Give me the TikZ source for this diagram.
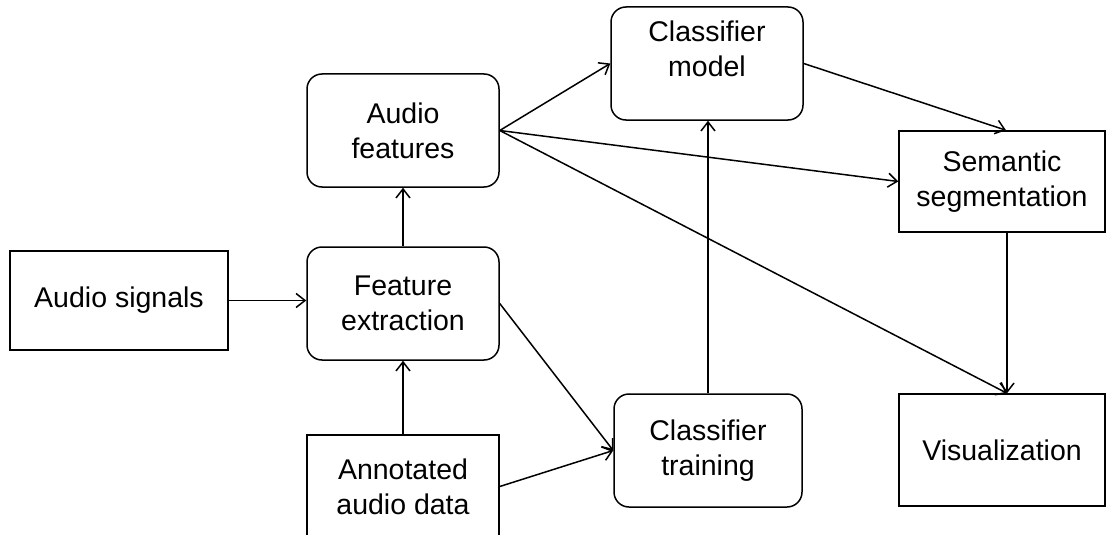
\documentclass[tikz,border=0pt]{standalone}
\usepackage{fontspec}
\setmainfont{Liberation Sans}
\usetikzlibrary{arrows.meta}
\begin{document}
\begin{tikzpicture}[x=1pt,y=-1pt,
  every node/.style={font=\fontsize{28.5}{35}\selectfont, align=center, inner sep=0pt, line width=1.5pt},
  sbox/.style={draw, rectangle},
  rbox/.style={draw, rectangle, rounded corners=15pt},
  conn/.style={line width=1.5pt, -{Straight Barb[length=9pt,width=14pt,line width=1.5pt]}}
]
\useasboundingbox (0,0) rectangle (1106,535);
\clip (0,0) rectangle (1106,535);
\node[sbox, minimum width=218pt, minimum height=99pt] (as) at (119,300.5) {Audio signals};
\node[rbox, minimum width=192pt, minimum height=113pt] (fe) at (403,303.5) {Feature\\extraction};
\node[rbox, minimum width=192pt, minimum height=113pt] (af) at (403,130.5) {Audio\\features};
\node[sbox, minimum width=192pt, minimum height=103pt] (ad) at (403,486.5) {Annotated\\audio data};
\node[rbox, minimum width=192pt, minimum height=113pt] (cm) at (707,63.5) {};
\node (cmt) at (707,48.5) {Classifier\\model};
\node[rbox, minimum width=188pt, minimum height=113pt] (ct) at (708,450.5) {Classifier\\training};
\node[sbox, minimum width=206pt, minimum height=101pt] (ss) at (1002,181.5) {Semantic\\segmentation};
\node[sbox, minimum width=206pt, minimum height=112pt] (vi) at (1002,450) {Visualization};

\draw[conn] (as.east) -- (as.east -| fe.west);
\draw[conn] (fe.north) -- (af.south);
\draw[conn] (ad.north) -- (fe.south);
\draw[conn] (af.east) -- (cm.west);
\draw[conn] (af.east) -- (ss.west);
\draw[conn] (af.east) -- ([xshift=5pt]vi.north);
\draw[conn] (fe.east) -- (ct.west);
\draw[conn] (ad.east) -- (ct.west);
\draw[conn] (ct.north) -- (ct.north |- cm.south);
\draw[conn] (cm.east) -- ([xshift=4pt]ss.north);
\draw[conn] ([xshift=5pt]ss.south) -- ([xshift=5pt]vi.north);
\end{tikzpicture}
\end{document}
